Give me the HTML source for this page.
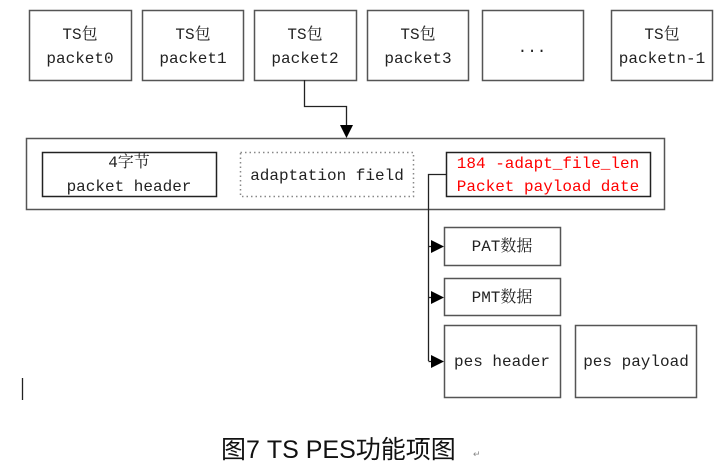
<!DOCTYPE html>
<html><head><meta charset="utf-8"><style>
html,body{margin:0;padding:0;background:#fff;width:722px;height:462px;overflow:hidden}
svg{display:block}
.t{font-family:"Liberation Mono","Noto Serif CJK SC",monospace;font-size:16px;fill:#222}
.r{fill:#f00}
.cap{font-family:"Liberation Sans","Noto Sans CJK SC",sans-serif;font-size:25px;fill:#111}
</style></head><body>
<svg width="722" height="462" viewBox="0 0 722 462" xmlns="http://www.w3.org/2000/svg">
<g fill="#fff" stroke="#555" stroke-width="1.5">
<rect x="29.5" y="10.5" width="102" height="70"/>
<rect x="142.5" y="10.5" width="101" height="70"/>
<rect x="254.5" y="10.5" width="102" height="70"/>
<rect x="367.5" y="10.5" width="101" height="70"/>
<rect x="482.5" y="10.5" width="101" height="70"/>
<rect x="611.5" y="10.5" width="101" height="70"/>
<rect x="26.5" y="138.5" width="638" height="71"/>
<rect x="42.5" y="152.5" width="174" height="44" stroke="#222"/>
<rect x="240.5" y="152.5" width="173" height="44" stroke="#888" stroke-dasharray="1.5,3"/>
<rect x="446.5" y="152.5" width="204" height="44" stroke="#222"/>
<rect x="444.5" y="227.5" width="116" height="38"/>
<rect x="444.5" y="278.5" width="116" height="37"/>
<rect x="444.5" y="325.5" width="116" height="72"/>
<rect x="575.5" y="325.5" width="121" height="72"/>
</g>
<g fill="none" stroke="#222" stroke-width="1.3">
<polyline points="304.5,80 304.5,106.5 346.5,106.5 346.5,128"/>
<polyline points="446,174.5 428.5,174.5 428.5,361"/>
<line x1="428.5" y1="246.5" x2="434" y2="246.5"/>
<line x1="428.5" y1="297.5" x2="434" y2="297.5"/>
<line x1="428.5" y1="361.5" x2="434" y2="361.5"/>
<line x1="22.5" y1="378" x2="22.5" y2="400"/>
</g>
<g fill="#000">
<polygon points="340,125 353,125 346.5,138"/>
<polygon points="431,240 444,246.5 431,253"/>
<polygon points="431,291 444,297.5 431,304"/>
<polygon points="431,355 444,361.5 431,368"/>
</g>
<g class="t" text-anchor="middle">
<text x="80" y="39">TS包</text><text x="80" y="63">packet0</text>
<text x="193" y="39">TS包</text><text x="193" y="63">packet1</text>
<text x="305" y="39">TS包</text><text x="305" y="63">packet2</text>
<text x="418" y="39">TS包</text><text x="418" y="63">packet3</text>
<text x="532" y="52">...</text>
<text x="662" y="39">TS包</text><text x="662" y="63">packetn-1</text>
<text x="129" y="167">4字节</text><text x="129" y="191">packet header</text>
<text x="327" y="180">adaptation field</text>
<text x="548" y="168" class="t r">184 -adapt_file_len</text>
<text x="548" y="191" class="t r">Packet payload date</text>
<text x="502" y="251">PAT数据</text>
<text x="502" y="302">PMT数据</text>
<text x="502" y="366">pes header</text>
<text x="636" y="366">pes payload</text>
</g>
<text class="cap" x="221" y="458">图7 TS PES功能项图</text>
<text x="473" y="457" font-size="9" fill="#888" font-family="Liberation Sans,sans-serif">↵</text>
</svg>
</body></html>
